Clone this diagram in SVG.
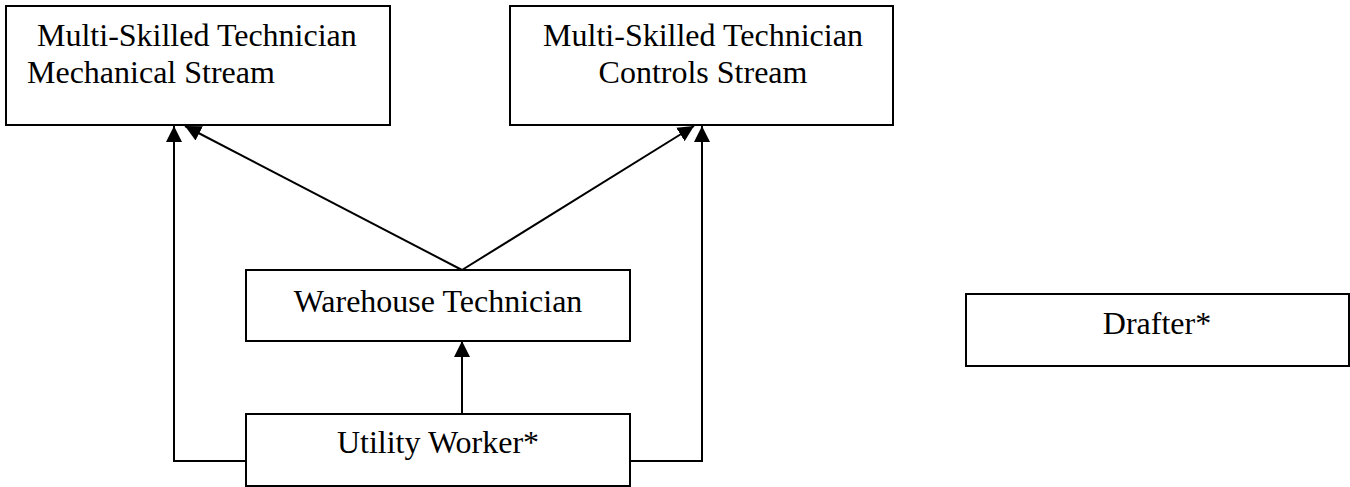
<svg xmlns="http://www.w3.org/2000/svg" width="1350" height="487" viewBox="0 0 1350 487">
<style>
.box{fill:#fff;stroke:#000;stroke-width:2}
.lbl{font-family:"Liberation Serif","Times New Roman",serif;font-size:32px;fill:#000}
.c{text-anchor:middle}
.con{fill:none;stroke:#000;stroke-width:2}
</style>
<defs>
<marker id="arr" markerUnits="userSpaceOnUse" markerWidth="16" markerHeight="16" refX="16" refY="8" orient="auto" viewBox="0 0 16 16">
<path d="M0,0 L16,8 L0,16 z" fill="#000"/>
</marker>
</defs>
<rect width="1350" height="487" fill="#fff"/>
<g id="mech">
<rect class="box" x="6" y="6" width="384" height="119"/>
<text class="lbl" x="37" y="46">Multi-Skilled Technician</text>
<text class="lbl" x="27" y="83">Mechanical Stream</text>
</g>
<g id="controls">
<rect class="box" x="510" y="6" width="383" height="119"/>
<text class="lbl c" x="703" y="46">Multi-Skilled Technician</text>
<text class="lbl c" x="703" y="83">Controls Stream</text>
</g>
<g id="warehouse">
<rect class="box" x="246" y="270" width="384" height="71"/>
<text class="lbl c" x="438" y="312">Warehouse Technician</text>
</g>
<g id="utility">
<rect class="box" x="246" y="414" width="384" height="72"/>
<text class="lbl c" x="438" y="453">Utility Worker*</text>
</g>
<g id="drafter">
<rect class="box" x="966" y="294" width="383" height="72"/>
<text class="lbl c" x="1157" y="334">Drafter*</text>
</g>
<g id="connectors">
<path class="con" d="M246,461 H174 V126" marker-end="url(#arr)"/>
<path class="con" d="M630,461 H702 V126" marker-end="url(#arr)"/>
<path class="con" d="M462,414 V341" marker-end="url(#arr)"/>
<path class="con" d="M462,270 L185,126" marker-end="url(#arr)"/>
<path class="con" d="M462,270 L694,126" marker-end="url(#arr)"/>
</g>
</svg>
